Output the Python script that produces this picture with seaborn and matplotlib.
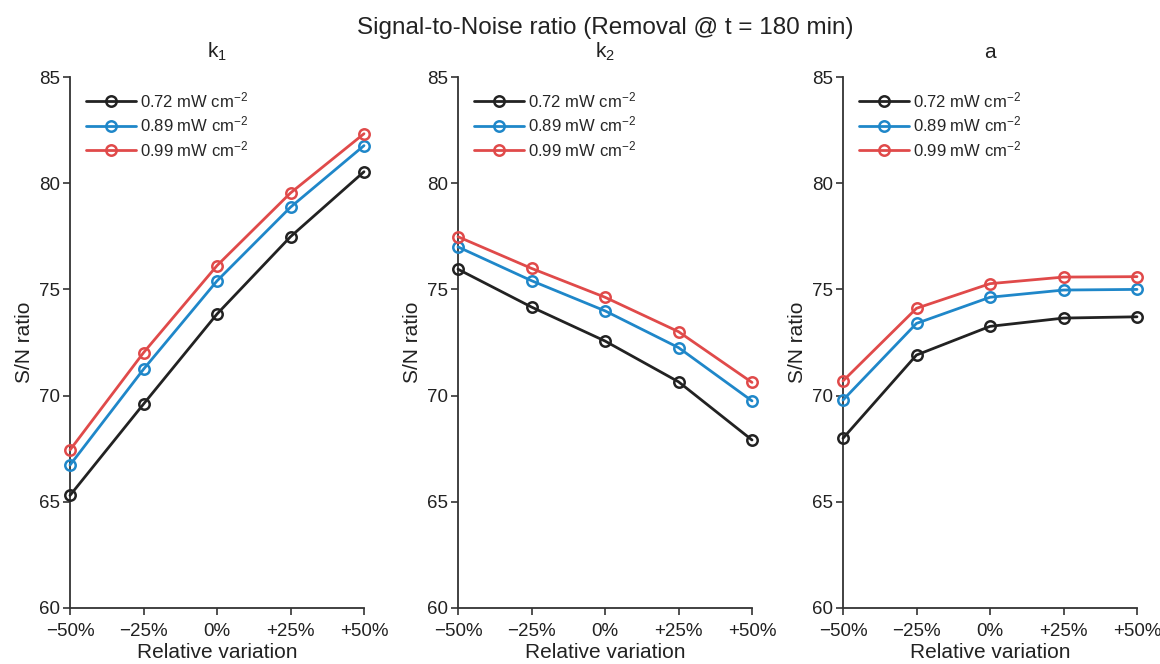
import numpy as np
import pandas as pd
import matplotlib
matplotlib.use("Agg")
import matplotlib.pyplot as plt
import seaborn as sns

sns.set_theme(style="ticks")
plt.rcParams['font.family'] = ['Liberation Sans', 'DejaVu Sans']
plt.rcParams['mathtext.fontset'] = 'custom'
plt.rcParams['mathtext.rm'] = 'Liberation Sans'
plt.rcParams['mathtext.it'] = 'Liberation Sans'

x_pos = [-50, -25, 0, 25, 50]
x_labels = ["\u221250%", "\u221225%", "0%", "+25%", "+50%"]
series = ["0.72 mW cm$^{\u22122}$", "0.89 mW cm$^{\u22122}$", "0.99 mW cm$^{\u22122}$"]
colors = ["#222222", "#1f87c9", "#e04a4a"]
panel_titles = ["k$_{1}$", "k$_{2}$", "a"]

k1 = [[65.3, 69.6, 73.84, 77.48, 80.54],
      [66.73, 71.24, 75.40, 78.87, 81.77],
      [67.44, 72.02, 76.12, 79.54, 82.33]]
k2 = [[75.95, 74.17, 72.57, 70.65, 67.91],
      [77.0, 75.41, 73.99, 72.26, 69.75],
      [77.48, 75.99, 74.63, 73.01, 70.62]]
a = [[67.99, 71.91, 73.26, 73.65, 73.71],
     [69.79, 73.4, 74.63, 74.97, 75.0],
     [70.69, 74.11, 75.27, 75.58, 75.6]]
panels = [k1, k2, a]

fig = plt.figure(figsize=(11.6, 6.64), dpi=100)
lefts = [70 / 1160, 458 / 1160, 843 / 1160]
w = 294 / 1160
b = 56 / 664
h = 531 / 664

for i, (data, ttl) in enumerate(zip(panels, panel_titles)):
    ax = fig.add_axes([lefts[i], b, w, h])
    for s, c, vals in zip(series, colors, data):
        df = pd.DataFrame({"x": x_pos, "y": vals})
        sns.lineplot(data=df, x="x", y="y", ax=ax, color=c, linewidth=2,
                     marker="o", markersize=7.5, markerfacecolor="none",
                     markeredgecolor=c, markeredgewidth=1.8, label=s,
                     clip_on=False, zorder=3)
    ax.set_xlim(-50, 50)
    ax.set_ylim(60, 85)
    ax.set_xticks(x_pos)
    ax.set_xticklabels(x_labels)
    ax.set_yticks([60, 65, 70, 75, 80, 85])
    ax.tick_params(axis="both", direction="out", length=5, width=1.2,
                   labelsize=13.5, colors="#333333", labelcolor="#222222", pad=2)
    ax.tick_params(axis="x", pad=6)
    for sp in ["top", "right"]:
        ax.spines[sp].set_visible(False)
    for sp in ["left", "bottom"]:
        ax.spines[sp].set_linewidth(1.3)
        ax.spines[sp].set_color("#333333")
    ax.set_xlabel("Relative variation", fontsize=15, color="#222222", labelpad=2)
    ax.set_ylabel("S/N ratio", fontsize=15, color="#222222", labelpad=4)
    ax.set_title(ttl, fontsize=15, color="#222222", pad=14)
    leg = ax.legend(loc="upper left", frameon=False, fontsize=12,
                    handlelength=3.0, handletextpad=0.2, labelspacing=0.28,
                    borderaxespad=0, borderpad=0,
                    bbox_to_anchor=(0.055, 0.975))
    ax.grid(False)

fig.text(605 / 1160, 1 - 28 / 664, "Signal-to-Noise ratio (Removal @ t = 180 min)",
         ha="center", va="center", fontsize=17.5, color="#222222")

fig.savefig("out.png", dpi=100)
